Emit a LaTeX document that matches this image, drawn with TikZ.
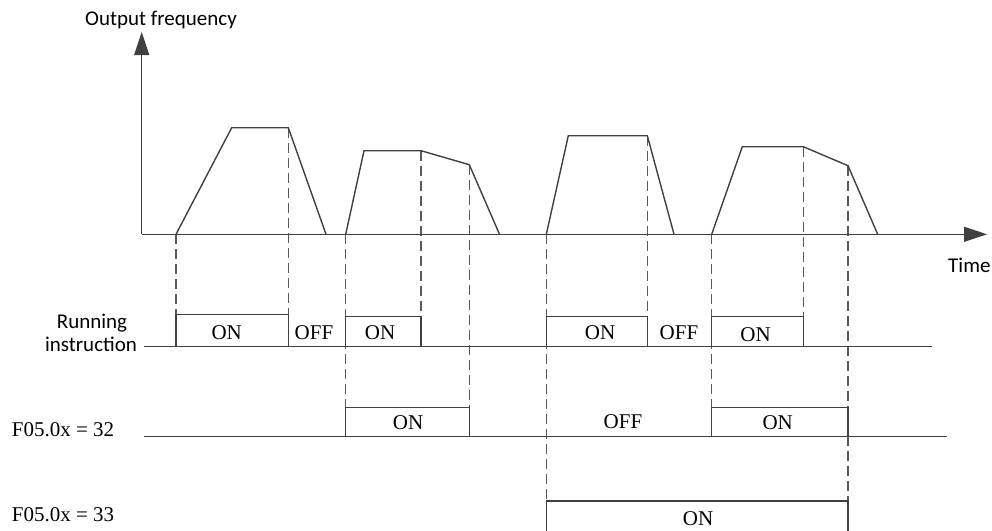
\documentclass[tikz,border=0pt]{standalone}
\usepackage{fontspec}
\setmainfont{Liberation Serif}
\newfontfamily\labfont{Carlito}
\usetikzlibrary{arrows.meta}
\definecolor{ln}{HTML}{404040}
\definecolor{dsh}{HTML}{5A5A5A}
\begin{document}
\begin{tikzpicture}[x=1pt,y=-1pt,
  wave/.style={draw=ln,line width=1.4pt,line join=miter},
  guide/.style={draw=dsh,line width=1.4pt,dash pattern=on 10pt off 5pt},
  sig/.style={draw=ln,line width=1.4pt},
  axisline/.style={draw=ln,line width=1.4pt,-{Triangle[length=23pt,width=15pt,fill=ln]}},
  sans/.style={font=\labfont\fontsize{21}{25}\selectfont,inner sep=0pt},
  serif/.style={font=\fontsize{21}{25}\selectfont,inner sep=0pt}]
\useasboundingbox (0,0) rectangle (992,530);

% axes
\coordinate (O) at (141.7,234.3);
\coordinate (ytip) at (141.7,32);
\coordinate (xtip) at (987,234.3);

% dashed guides
\draw[guide] (176,234.3) -- (176,314.7);
\draw[guide] (288.3,127.7) -- (288.3,314.7);
\draw[guide] (345.7,234.3) -- (345.7,407.7);
\draw[guide] (421,150.7) -- (421,316.3);
\draw[guide] (469.3,164.7) -- (469.3,407.7);
\draw[guide] (546.3,234.3) -- (546.3,501);
\draw[guide] (647.3,135.7) -- (647.3,316.3);
\draw[guide] (711.7,234.3) -- (711.7,407.7);
\draw[guide] (803.3,146.7) -- (803.3,316.3);
\draw[guide] (848,165.7) -- (848,501);

\draw[axisline] (O) -- (ytip);
\draw[axisline] (O) -- (xtip);

% frequency profiles
\draw[wave] (176,234.3) -- (231.7,127.7) -- (288.3,127.7) -- (326,234.3);
\draw[wave] (345.7,234.3) -- (364,150.7) -- (421,150.7) -- (469.3,164.7) -- (499.5,234.3);
\draw[wave] (546.3,234.3) -- (568.3,135.7) -- (647.3,135.7) -- (674,234.3);
\draw[wave] (711.7,234.3) -- (742.3,146.7) -- (803.3,146.7) -- (848,165.7) -- (877.7,234.3);

% running instruction
\draw[sig] (144,346.7) -- (931.7,346.7);
\draw[sig] (176,346.7) -- (176,314.7) -- (288.3,314.7) -- (288.3,346.7);
\draw[sig] (345.7,346.7) -- (345.7,316.3) -- (421,316.3) -- (421,346.7);
\draw[sig] (546.3,346.7) -- (546.3,316.3) -- (647.3,316.3) -- (647.3,346.7);
\draw[sig] (711.7,346.7) -- (711.7,316.3) -- (803.3,316.3) -- (803.3,346.7);

% F05.0x = 32
\draw[sig] (144,436.7) -- (946.7,436.7);
\draw[sig] (345.7,436.7) -- (345.7,407.7) -- (469.3,407.7) -- (469.3,436.7);
\draw[sig] (711.7,436.7) -- (711.7,407.7) -- (848,407.7) -- (848,436.7);

% F05.0x = 33
\draw[sig] (546.3,531) -- (546.3,501) -- (848,501) -- (848,531);

% labels
\node[sans,anchor=base west] (ylab) at (85,25) {Output frequency};
\node[sans,anchor=base west] (xlab) at (948,272) {Time};
\node[sans,anchor=base] (run1) at (92,328.3) {Running};
\node[sans,anchor=base] (run2) at (91,351.7) {instruction};
\node[serif,anchor=base west] (f32) at (11.7,436.7) {F05.0x = 32};
\node[serif,anchor=base west] (f33) at (11.7,521.7) {F05.0x = 33};

\node[serif,anchor=base] (r1) at (226.7,339) {ON};
\node[serif,anchor=base] (r2) at (314,339) {OFF};
\node[serif,anchor=base] (r3) at (380,339) {ON};
\node[serif,anchor=base] (r4) at (600,339) {ON};
\node[serif,anchor=base] (r5) at (679,339) {OFF};
\node[serif,anchor=base] (r6) at (755.5,341) {ON};

\node[serif,anchor=base] (a1) at (408,429) {ON};
\node[serif,anchor=base] (a2) at (623,428.3) {OFF};
\node[serif,anchor=base] (a3) at (777.7,429) {ON};

\node[serif,anchor=base] (b1) at (698,525) {ON};
\end{tikzpicture}
\end{document}
